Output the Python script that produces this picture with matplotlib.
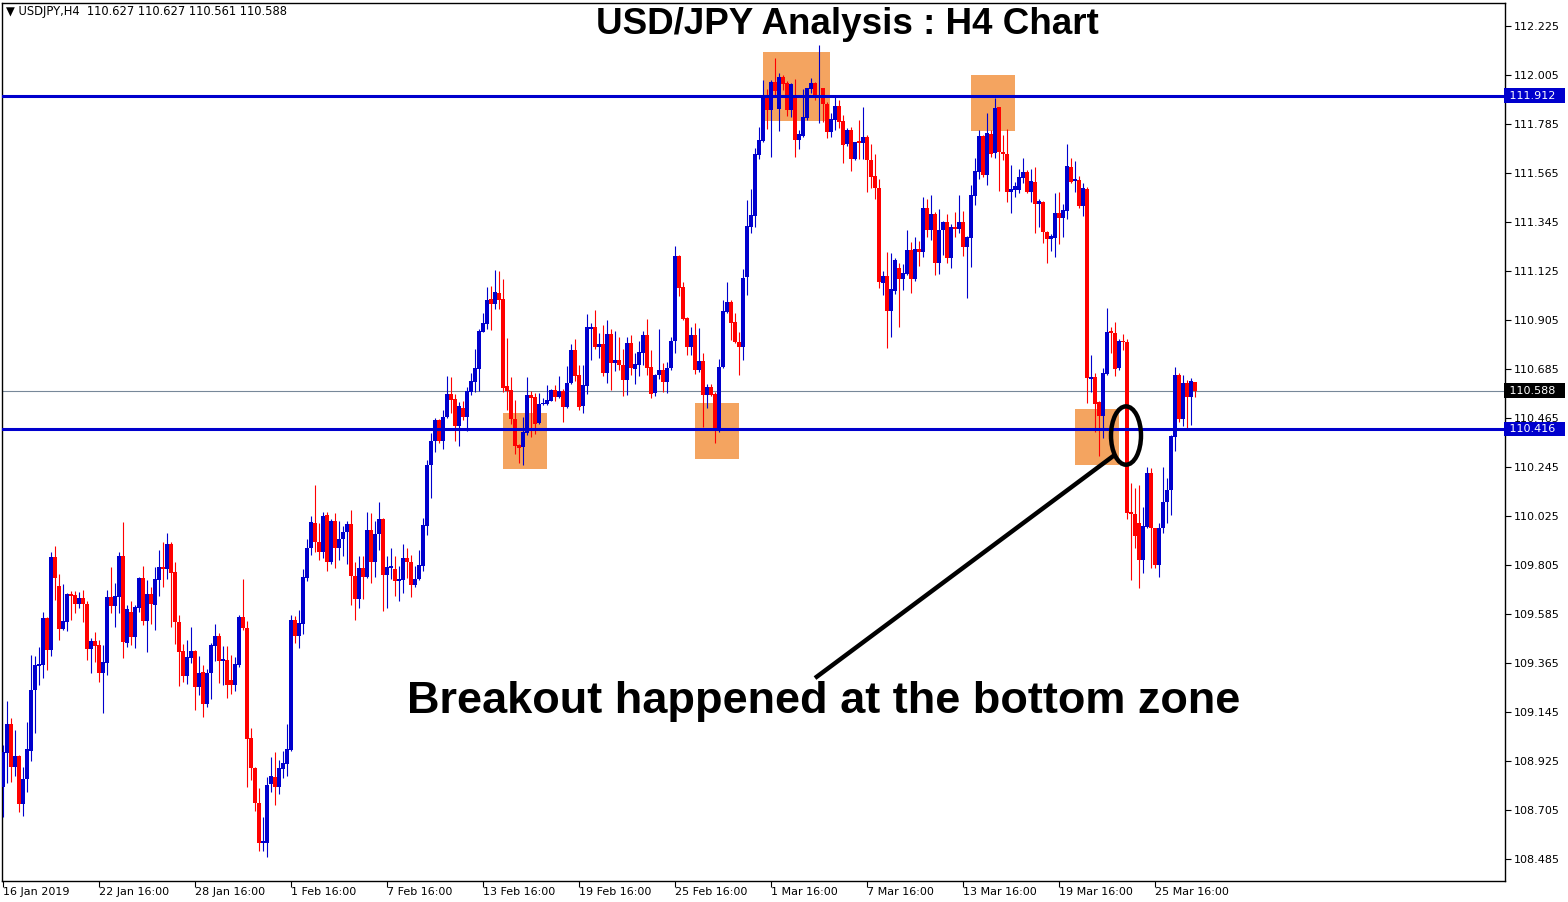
import matplotlib
matplotlib.use("Agg")
import matplotlib.pyplot as plt
from matplotlib.patches import Rectangle, Ellipse
import matplotlib.transforms as mtransforms

# ---------------- data (USDJPY H4 candles) ----------------
opens = [
108.806,108.962,109.091,108.899,108.947,108.731,108.844,108.971,109.243,109.353,
109.356,109.568,109.423,109.842,109.710,109.517,109.550,109.674,109.670,109.630,
109.658,109.630,109.428,109.465,109.445,109.318,109.366,109.661,109.622,109.663,
109.845,109.456,109.594,109.483,109.613,109.746,109.555,109.674,109.625,109.737,
109.796,109.787,109.901,109.775,109.549,109.419,109.308,109.389,109.419,109.258,
109.324,109.182,109.318,109.443,109.486,109.375,109.378,109.288,109.267,109.356,
109.570,109.520,109.027,108.894,108.734,108.557,108.557,108.820,108.855,108.809,
108.890,108.912,108.974,109.556,109.488,109.541,109.746,109.879,109.994,109.909,
109.861,110.030,109.817,110.003,109.879,109.920,109.955,109.991,109.755,109.653,
109.790,109.749,109.962,109.817,109.946,110.012,109.760,109.790,109.789,109.732,
109.737,109.835,109.820,109.717,109.742,109.800,109.982,110.252,110.363,110.456,
110.361,110.468,110.572,110.550,110.429,110.508,110.471,110.583,110.628,110.683,
110.852,110.887,110.999,110.977,111.027,110.999,110.608,110.590,110.459,110.343,
110.336,110.399,110.568,110.560,110.441,110.527,110.527,110.542,110.590,110.560,
110.587,110.516,110.620,110.770,110.658,110.519,110.610,110.866,110.872,110.785,
110.795,110.665,110.842,110.710,110.725,110.702,110.635,110.800,110.685,110.703,
110.755,110.838,110.695,110.576,110.658,110.680,110.628,110.688,110.811,111.192,
111.051,110.915,110.785,110.838,110.680,110.721,110.568,110.603,110.573,110.411,
110.692,110.942,110.987,110.894,110.808,110.785,111.096,111.324,111.373,111.646,
111.710,111.915,111.848,111.975,111.852,111.997,111.967,111.848,111.915,111.713,
111.731,111.810,111.944,111.967,111.905,111.945,111.875,111.750,111.802,111.866,
111.798,111.695,111.758,111.628,111.709,111.701,111.725,111.623,111.551,111.499,
111.073,111.102,110.947,111.036,111.137,111.089,111.111,111.219,111.089,111.224,
111.212,111.409,111.309,111.381,111.162,111.309,111.346,111.185,111.324,111.313,
111.346,111.234,111.274,111.463,111.571,111.731,111.556,111.740,111.653,111.863,
111.661,111.650,111.478,111.489,111.489,111.544,111.568,111.481,111.526,111.426,
111.436,111.301,111.268,111.274,111.384,111.364,111.396,111.590,111.529,111.533,
111.417,111.493,110.641,110.647,110.537,110.474,110.662,110.857,110.848,110.688,
110.812,110.808,110.042,110.034,109.992,109.827,109.977,110.216,109.969,109.805,
109.969,110.089,110.141,110.381,110.658,110.459,110.623,110.558,110.627]

highs = [
108.997,109.194,109.116,109.064,108.950,108.899,109.101,109.401,109.398,109.438,
109.595,109.570,109.865,109.890,109.764,109.719,109.677,109.689,109.689,109.682,
109.693,109.645,109.478,109.504,109.468,109.445,109.693,109.796,109.724,109.865,
109.998,109.625,109.643,109.625,109.751,109.800,109.737,109.704,109.796,109.872,
109.908,109.948,109.908,109.820,109.580,109.450,109.468,109.528,109.422,109.398,
109.356,109.338,109.453,109.540,109.499,109.443,109.443,109.402,109.392,109.580,
109.742,109.553,109.071,108.897,108.805,108.672,108.855,108.944,108.965,108.929,
108.968,109.089,109.582,109.577,109.604,109.785,109.920,110.024,110.163,109.994,
110.042,110.042,110.010,110.039,110.003,109.982,110.003,110.051,109.817,109.843,
109.843,110.044,110.039,110.003,110.088,110.017,109.843,109.879,109.843,109.799,
109.897,109.879,109.849,109.799,109.870,110.015,110.278,110.399,110.466,110.460,
110.501,110.653,110.650,110.572,110.538,110.542,110.602,110.665,110.773,110.863,
110.935,111.054,111.057,111.129,111.123,111.087,110.822,110.650,110.545,110.346,
110.471,110.647,110.587,110.575,110.575,110.556,110.613,110.593,110.613,110.653,
110.593,110.698,110.797,110.819,110.703,110.703,110.932,110.890,110.950,110.845,
110.882,110.905,110.863,110.855,110.827,110.776,110.830,110.838,110.755,110.811,
110.855,110.909,110.770,110.662,110.864,110.710,110.718,110.827,111.237,111.197,
111.077,110.920,110.875,110.890,110.867,110.755,110.618,110.618,110.580,110.728,
110.995,111.074,110.995,110.935,110.852,111.134,111.444,111.493,111.679,111.770,
111.982,111.940,111.982,112.083,112.015,112.005,111.978,111.970,111.985,111.758,
111.942,111.948,111.993,111.975,112.140,111.948,111.885,111.833,111.915,111.893,
111.825,111.765,111.773,111.706,111.803,111.863,111.735,111.695,111.650,111.538,
111.126,111.212,111.204,111.182,111.162,111.156,111.309,111.254,111.276,111.259,
111.459,111.448,111.466,111.388,111.403,111.351,111.381,111.336,111.388,111.466,
111.394,111.284,111.511,111.631,111.758,111.736,111.836,111.758,111.903,111.863,
111.736,111.762,111.601,111.526,111.583,111.631,111.578,111.581,111.590,111.447,
111.441,111.304,111.289,111.477,111.478,111.426,111.694,111.631,111.619,111.551,
111.521,111.500,110.748,110.665,110.540,110.688,110.959,110.872,110.894,110.820,
110.842,110.820,110.171,110.149,110.164,110.067,110.243,110.239,109.970,109.992,
110.246,110.194,110.390,110.692,110.665,110.658,110.635,110.643,110.627]

lows = [
108.672,108.827,108.832,108.857,108.697,108.679,108.787,108.926,109.052,109.266,
109.299,109.333,109.398,109.648,109.468,109.515,109.510,109.558,109.591,109.613,
109.549,109.378,109.321,109.369,109.281,109.142,109.312,109.588,109.528,109.588,
109.389,109.438,109.444,109.434,109.595,109.535,109.416,109.540,109.513,109.666,
109.704,109.740,109.525,109.450,109.261,109.279,109.270,109.363,109.154,109.221,
109.122,109.169,109.203,109.374,109.276,109.266,109.209,109.225,109.240,109.348,
109.513,108.806,108.841,108.699,108.521,108.521,108.494,108.784,108.725,108.778,
108.850,108.858,108.970,109.453,109.430,109.494,109.735,109.849,109.861,109.826,
109.835,109.778,109.810,109.790,109.826,109.843,109.808,109.625,109.559,109.613,
109.653,109.746,109.724,109.749,109.870,109.600,109.613,109.742,109.666,109.643,
109.678,109.746,109.661,109.707,109.736,109.778,109.941,110.104,110.314,110.351,
110.325,110.463,110.489,110.363,110.340,110.456,110.408,110.568,110.583,110.587,
110.850,110.863,110.860,110.953,110.953,110.583,110.501,110.438,110.303,110.261,
110.254,110.388,110.378,110.393,110.438,110.523,110.525,110.540,110.542,110.556,
110.448,110.510,110.617,110.631,110.501,110.489,110.572,110.725,110.773,110.733,
110.653,110.623,110.590,110.677,110.680,110.563,110.567,110.658,110.618,110.655,
110.703,110.658,110.556,110.565,110.640,110.580,110.579,110.680,110.758,111.014,
110.905,110.748,110.748,110.662,110.673,110.426,110.511,110.565,110.351,110.400,
110.688,110.938,110.815,110.803,110.658,110.725,111.017,111.297,111.324,111.628,
111.706,111.762,111.638,111.915,111.755,111.938,111.821,111.815,111.638,111.673,
111.725,111.803,111.922,111.893,111.788,111.795,111.723,111.728,111.758,111.768,
111.611,111.686,111.575,111.623,111.628,111.628,111.481,111.499,111.447,111.047,
111.017,110.781,110.830,111.020,110.875,111.040,111.107,111.028,111.080,111.149,
111.189,111.276,111.264,111.107,111.111,111.197,111.162,111.140,111.279,111.294,
111.192,111.005,111.144,111.421,111.538,111.545,111.511,111.635,111.634,111.486,
111.623,111.436,111.384,111.459,111.474,111.518,111.474,111.436,111.297,111.324,
111.249,111.159,111.216,111.186,111.245,111.276,111.357,111.520,111.481,111.406,
111.373,110.534,110.583,110.403,110.294,110.377,110.658,110.758,110.655,110.680,
110.770,110.010,109.737,109.880,109.700,109.767,109.970,109.790,109.790,109.752,
109.947,109.992,110.029,110.318,110.448,110.429,110.411,110.433,110.561]

closes = [
108.967,109.091,108.899,108.947,108.731,108.844,108.978,109.243,109.356,109.360,
109.568,109.423,109.842,109.748,109.517,109.553,109.674,109.666,109.630,109.658,
109.630,109.428,109.465,109.443,109.321,109.368,109.661,109.622,109.666,109.845,
109.460,109.607,109.483,109.618,109.746,109.555,109.674,109.631,109.742,109.796,
109.787,109.901,109.770,109.549,109.416,109.308,109.393,109.419,109.258,109.320,
109.182,109.320,109.447,109.486,109.375,109.383,109.267,109.267,109.360,109.573,
109.520,109.022,108.894,108.734,108.557,108.565,108.818,108.858,108.809,108.894,
108.917,108.979,109.559,109.488,109.545,109.751,109.879,109.998,109.906,109.861,
110.024,109.817,110.003,109.879,109.920,109.955,109.991,109.755,109.653,109.790,
109.749,109.962,109.817,109.946,110.012,109.760,109.796,109.799,109.732,109.742,
109.838,109.817,109.717,109.742,109.803,109.985,110.252,110.363,110.456,110.361,
110.471,110.572,110.545,110.429,110.519,110.471,110.587,110.631,110.691,110.855,
110.893,110.994,110.977,111.032,110.994,110.601,110.587,110.459,110.339,110.331,
110.403,110.568,110.556,110.438,110.527,110.533,110.545,110.590,110.560,110.587,
110.516,110.623,110.770,110.653,110.516,110.613,110.872,110.872,110.785,110.795,
110.665,110.842,110.710,110.725,110.701,110.636,110.800,110.691,110.707,110.760,
110.838,110.691,110.573,110.658,110.680,110.628,110.691,110.811,111.192,111.050,
110.909,110.785,110.838,110.680,110.721,110.568,110.603,110.568,110.418,110.692,
110.945,110.987,110.893,110.808,110.785,111.094,111.327,111.376,111.650,111.713,
111.915,111.848,111.975,111.933,111.997,111.963,111.848,111.964,111.713,111.740,
111.818,111.945,111.970,111.905,111.915,111.875,111.750,111.807,111.866,111.795,
111.690,111.758,111.628,111.703,111.701,111.725,111.623,111.548,111.499,111.077,
111.101,110.947,111.045,111.174,111.090,111.114,111.219,111.089,111.224,111.212,
111.409,111.309,111.381,111.162,111.309,111.346,111.185,111.324,111.313,111.346,
111.234,111.279,111.466,111.575,111.731,111.556,111.746,111.650,111.858,111.661,
111.649,111.481,111.493,111.506,111.545,111.568,111.481,111.529,111.426,111.439,
111.301,111.268,111.284,111.384,111.364,111.399,111.596,111.526,111.536,111.417,
111.499,110.646,110.647,110.528,110.474,110.665,110.852,110.845,110.685,110.812,
110.805,110.037,110.035,109.936,109.827,109.980,110.216,109.969,109.805,109.969,
110.089,110.141,110.384,110.658,110.459,110.620,110.558,110.632,110.588]

tick_labels = ["16 Jan 2019", "22 Jan 16:00", "28 Jan 16:00", "1 Feb 16:00",
               "7 Feb 16:00", "13 Feb 16:00", "19 Feb 16:00", "25 Feb 16:00",
               "1 Mar 16:00", "7 Mar 16:00", "13 Mar 16:00", "19 Mar 16:00",
               "25 Mar 16:00"]
bars_per_label = 24
price_ticks = [112.225, 112.005, 111.785, 111.565, 111.345, 111.125, 110.905,
               110.685, 110.465, 110.245, 110.025, 109.805, 109.585, 109.365,
               109.145, 108.925, 108.705, 108.485]
resistance = 111.912
support = 110.416
bid = 110.588
header = "\u25BC USDJPY,H4  110.627 110.627 110.561 110.588"
title = "USD/JPY Analysis : H4 Chart"
note = "Breakout happened at the bottom zone"

# zones (bar index from/to, price low/high)
zones = [(125.0, 136.0, 110.236, 110.487),
         (173.0, 184.0, 110.281, 110.532),
         (190.0, 206.8, 111.798, 112.108),
         (242.0, 253.0, 111.754, 112.005),
         (268.0, 279.0, 110.254, 110.505)]

# ---------------- figure ----------------
W, H = 1568, 902
fig = plt.figure(figsize=(W / 100, H / 100), dpi=100)
fig.patch.set_facecolor("white")
L_px, R_px, T_px, B_px = 2, 1505, 3, 881
ax = fig.add_axes([L_px / W, (H - B_px) / H, (R_px - L_px) / W, (B_px - T_px) / H])

BULL = "#0000CD"
BEAR = "#FF0000"
LINE_BLUE = "#0000CD"

n = len(closes)
for i in range(n):
    o, h, l, c = opens[i], highs[i], lows[i], closes[i]
    col = BULL if c >= o else BEAR
    ax.vlines(i, l, h, color=col, linewidth=0.8, zorder=3)
    ax.bar(i, max(abs(c - o), 0.006), bottom=min(o, c), width=0.78,
           color=col, linewidth=0, zorder=4)

for (x0, x1, y0, y1) in zones:
    ax.add_patch(Rectangle((x0, y0), x1 - x0, y1 - y0, facecolor="#F4A460",
                           edgecolor="none", zorder=1))

ax.axhline(bid, color="#778899", linewidth=0.8, zorder=2)
ax.axhline(resistance, color=LINE_BLUE, linewidth=2.2, zorder=5)
ax.axhline(support, color=LINE_BLUE, linewidth=2.2, zorder=5)

ax.add_patch(Ellipse((280.75, 110.386), 7.5, 0.262, facecolor="none",
                     edgecolor="black", linewidth=3.2, zorder=6))
ax.plot([203.0, 278.0], [109.297, 110.30], color="black", linewidth=3.2,
        solid_capstyle="butt", zorder=6)

ax.set_xlim(-0.25, 375.5)
ax.set_ylim(108.3858, 112.3283)

ax.set_xticks(range(0, bars_per_label * len(tick_labels), bars_per_label))
ax.set_xticklabels(tick_labels, ha="left", fontsize=8)
ax.tick_params(axis="x", direction="out", length=4, width=0.8, pad=0.5,
               colors="black")
ax.yaxis.tick_right()
ax.set_yticks(price_ticks)
ax.set_yticklabels([f"{p:.3f}" for p in price_ticks], fontsize=8)
ax.tick_params(axis="y", direction="out", length=4, width=0.8, pad=2,
               colors="black")
for s in ax.spines.values():
    s.set_color("black")
    s.set_linewidth(1.0)

# price labels on the axis
trans = mtransforms.blended_transform_factory(ax.transAxes, ax.transData)
for val, bg in [(resistance, LINE_BLUE), (bid, "black"), (support, LINE_BLUE)]:
    ax.text(1.0007, val, f" {val:.3f}  ", transform=trans, fontsize=8,
            color="white", va="center", ha="left", zorder=10, clip_on=False,
            bbox=dict(boxstyle="square,pad=0.2", facecolor=bg, edgecolor="none"))

fig.text(6 / W, 1 - 12 / H, header, fontsize=8.3, va="center", ha="left")
fig.text(847 / W, 1 - 24 / H, title, fontsize=26.5, fontweight="bold",
         family="Liberation Sans", ha="center", va="center")
fig.text(824 / W, 1 - 702 / H, note, fontsize=32.5, fontweight="bold",
         family="Liberation Sans", ha="center", va="center")

fig.savefig("out.png", dpi=100)
